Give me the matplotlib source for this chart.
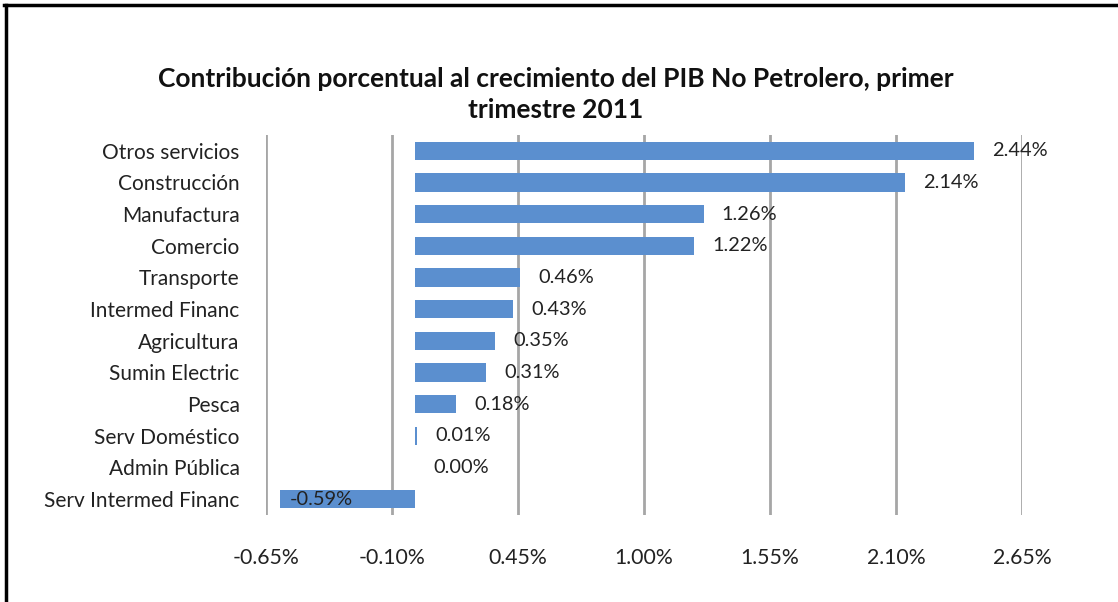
import matplotlib
matplotlib.use("Agg")
import matplotlib.pyplot as plt
from matplotlib.lines import Line2D
import numpy as np

# datos del grafico
sectores = ["Otros servicios", "Construcción", "Manufactura", "Comercio",
            "Transporte", "Intermed Financ", "Agricultura", "Sumin Electric",
            "Pesca", "Serv Doméstico", "Admin Pública", "Serv Intermed Financ"]
valores = [2.44, 2.14, 1.26, 1.22, 0.46, 0.43, 0.35, 0.31, 0.18, 0.01, 0.00, -0.59]
ticks_x = [-0.65, -0.10, 0.45, 1.00, 1.55, 2.10, 2.65]
titulo = "Contribución porcentual al crecimiento del PIB No Petrolero, primer\ntrimestre 2011"

plt.rcParams["font.family"] = ["Lato", "DejaVu Sans"]

fig = plt.figure(figsize=(11.18, 6.02), dpi=100)
ax = fig.add_axes([0.238, 0.1445, 0.676, 0.6315])

y = np.arange(len(sectores))
ax.barh(y, valores, height=0.58, color="#5B8FCF", zorder=3)

ax.set_xlim(-0.65, 2.65)
ax.set_ylim(len(sectores) - 0.5, -0.5)
ax.set_xticks(ticks_x)
ax.set_xticklabels(["%.2f%%" % t for t in ticks_x], fontsize=15.3, color="#222222")
ax.set_yticks(y)
ax.set_yticklabels(sectores, fontsize=15, color="#222222")
ax.tick_params(axis="both", length=0)
ax.tick_params(axis="x", pad=24)
ax.tick_params(axis="y", pad=19)
for s in ax.spines.values():
    s.set_visible(False)
ax.grid(axis="x", color="#A6A6A6", linewidth=2, zorder=1)

for yi, v in zip(y, valores):
    if v < 0:
        ax.text(v + 0.045, yi, "%.2f%%" % v, va="center", ha="left",
                fontsize=14.4, color="#222222", zorder=4)
    else:
        ax.text(v + 0.079, yi, "%.2f%%" % v, va="center", ha="left",
                fontsize=14.4, color="#222222", zorder=4)

fig.text(0.497, 0.843, titulo, ha="center", va="center", fontsize=19,
         fontweight="bold", linespacing=1.38, color="#111111")

# marco
fig.add_artist(Line2D([0.004, 1.0], [0.9925, 0.9925], color="black", lw=2.5))
fig.add_artist(Line2D([0.0055, 0.0055], [0.0, 0.9925], color="black", lw=2.5))

fig.savefig("out.png", dpi=100, facecolor="white")
